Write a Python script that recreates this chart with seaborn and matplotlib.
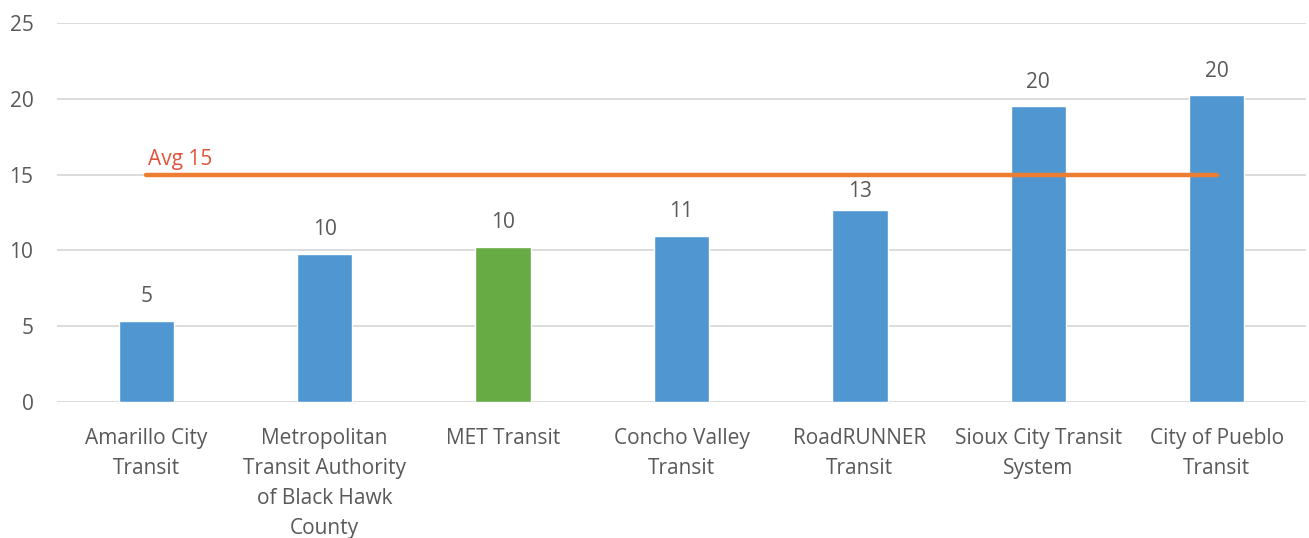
import matplotlib
matplotlib.use("Agg")
import matplotlib.pyplot as plt
import seaborn as sns
import pandas as pd

categories = ["Amarillo City\nTransit",
              "Metropolitan\nTransit Authority\nof Black Hawk\nCounty",
              "MET Transit",
              "Concho Valley\nTransit",
              "RoadRUNNER\nTransit",
              "Sioux City Transit\nSystem",
              "City of Pueblo\nTransit"]
values = [5.35, 9.77, 10.22, 10.95, 12.67, 19.5, 20.22]
avg_value = 15
highlight = "MET Transit"

sns.set_theme(style="white")
plt.rcParams['font.family'] = ['Open Sans', 'DejaVu Sans']

df = pd.DataFrame({"cat": categories, "val": values})
df["grp"] = ["hl" if c == highlight else "base" for c in categories]

fig = plt.figure(figsize=(13.09, 5.38), dpi=100)
ax = fig.add_axes([57/1309, 1-402/538, 1249/1309, 379/538])

sns.barplot(data=df, x="cat", y="val", hue="grp",
            palette={"base": "#5097D1", "hl": "#67AB45"},
            dodge=False, width=0.31, legend=False, ax=ax, zorder=2,
            saturation=1)

ax.set_ylim(0, 25)
ax.set_xlim(-0.5, len(categories) - 0.5)
ax.set_yticks([0, 5, 10, 15, 20, 25])
ax.yaxis.grid(True, color="#D9D9D9", linewidth=1.3, zorder=0)
ax.set_axisbelow(True)
for s in ax.spines.values():
    s.set_visible(False)
ax.set_xlabel("")
ax.set_ylabel("")
ax.tick_params(axis="y", length=0, pad=17, labelsize=15, labelcolor="#595959")
ax.tick_params(axis="x", length=0, pad=19, labelsize=15, labelcolor="#595959")
for t in ax.get_xticklabels():
    t.set_linespacing(1.55)

for i, v in enumerate(values):
    # label that would collide with the average line sits a little lower
    off = 0.5 if abs(v + 1.5 - avg_value) < 1.5 else 0.9
    ax.text(i, v + off, f"{round(v):d}", ha="center", va="bottom",
            fontsize=15, color="#595959", zorder=4)

ax.plot([0, len(categories) - 1], [avg_value, avg_value], color="#ED7D31",
        linewidth=3.2, solid_capstyle="round", zorder=3)
ax.text(0.01, avg_value + 0.28, f"Avg {avg_value}", ha="left", va="bottom",
        fontsize=15, color="#E0533A", zorder=4)

fig.savefig("out.png", dpi=100)
